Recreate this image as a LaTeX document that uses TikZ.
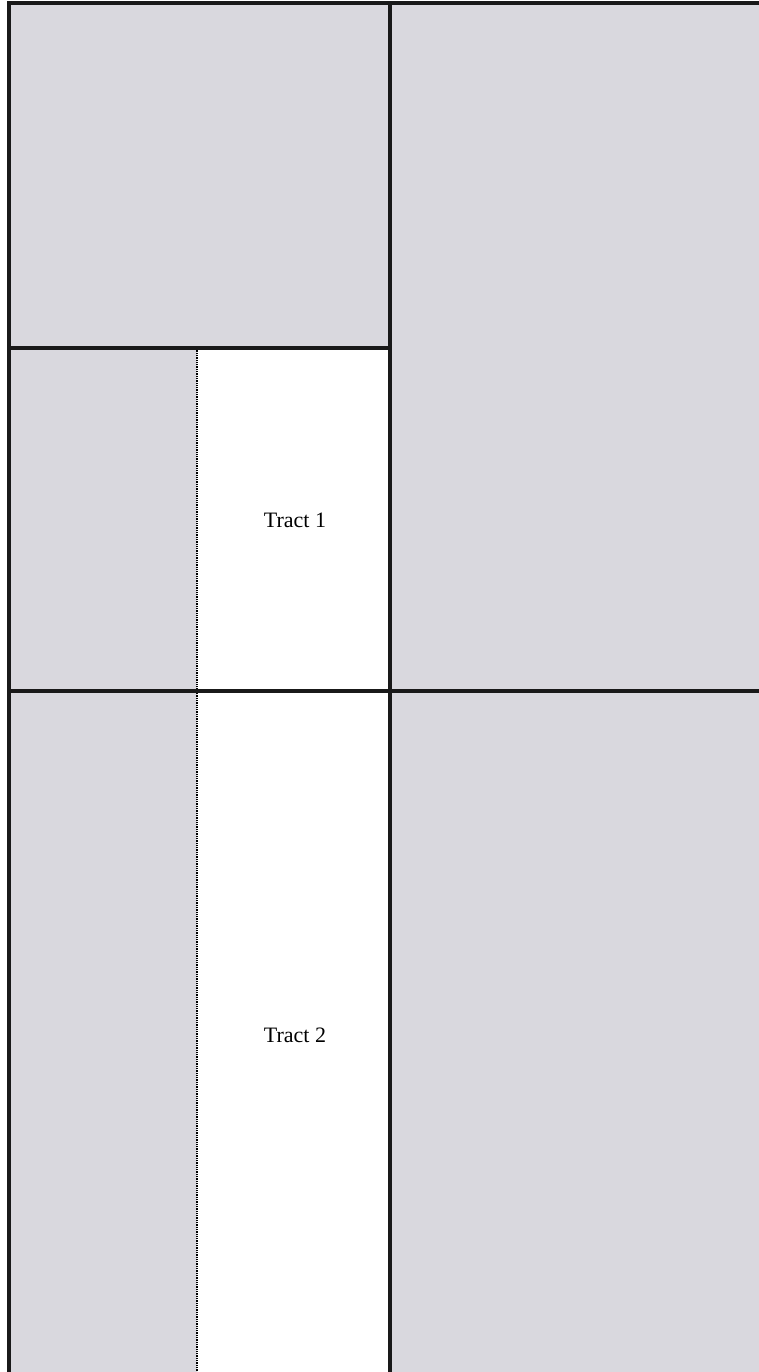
\documentclass[tikz,border=0pt]{standalone}
\usepackage{fontspec}
\setmainfont{Liberation Serif}
\definecolor{stipple}{RGB}{217,216,222}
\tikzset{
  wall/.style={line width=3.2pt, draw=black!90},
  dotline/.style={line width=2.2pt, draw=black, dash pattern=on 1.3pt off 1pt},
  grayfill/.style={fill=stipple, draw=none},
  label/.style={font=\fontsize{22}{26}\selectfont, text=black}
}
\begin{document}
\begin{tikzpicture}[x=1pt,y=-1pt]
\useasboundingbox (0,0) rectangle (759,1372);
\fill[white] (0,0) rectangle (759,1372);
% gray areas
\path[grayfill] (9,3) rectangle (390,348);
\path[grayfill] (390,3) rectangle (759,1372);
\path[grayfill] (9,348) rectangle (197,1372);
% lines
\draw[dotline] (197,348) -- (197,1372);
\draw[wall] (9,1372) -- (9,3) -- (759,3);
\draw[wall] (390,3) -- (390,1372);
\draw[wall] (9,348) -- (390,348);
\draw[wall] (9,691) -- (759,691);
% labels
\node[label] (t1) at (295,520) {Tract 1};
\node[label] (t2) at (295,1035) {Tract 2};
\end{tikzpicture}
\end{document}
